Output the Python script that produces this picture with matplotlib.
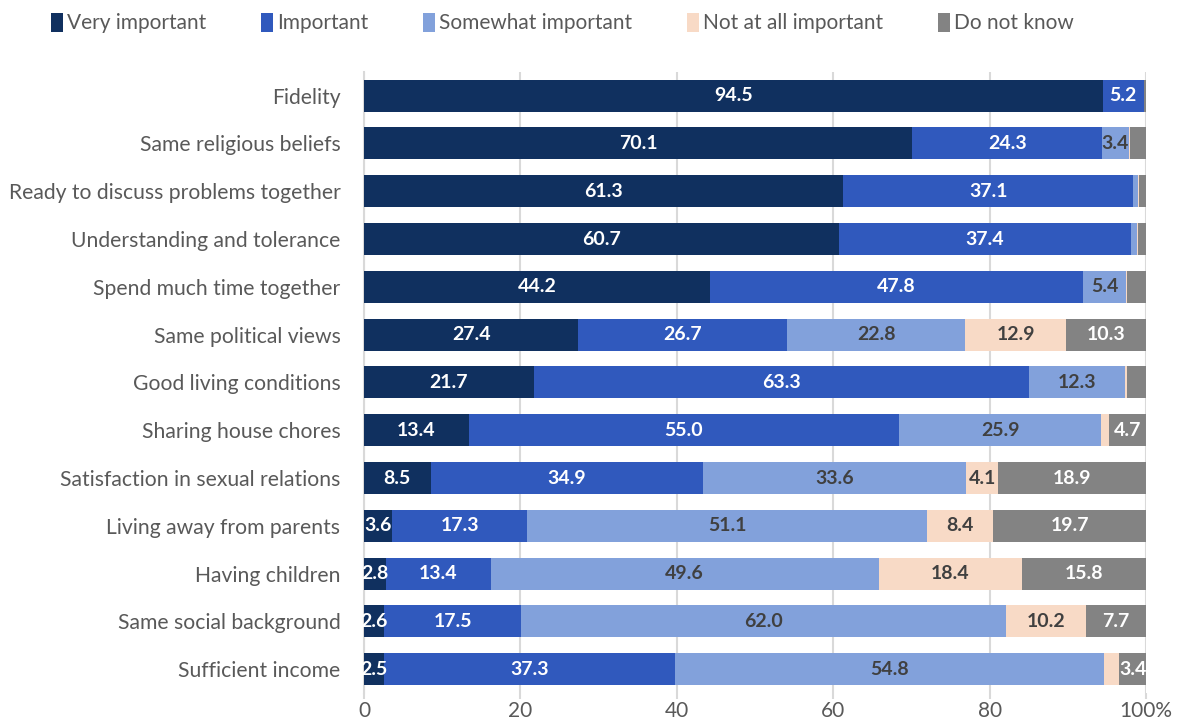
import matplotlib
matplotlib.use('Agg')
import matplotlib.pyplot as plt
from matplotlib.patches import Patch
import numpy as np

plt.rcParams['font.family'] = ['Lato', 'DejaVu Sans']

categories = ['Fidelity', 'Same religious beliefs', 'Ready to discuss problems together',
              'Understanding and tolerance', 'Spend much time together', 'Same political views',
              'Good living conditions', 'Sharing house chores', 'Satisfaction in sexual relations',
              'Living away from parents', 'Having children', 'Same social background',
              'Sufficient income']
series = ['Very important', 'Important', 'Somewhat important', 'Not at all important', 'Do not know']

very_important = [94.5, 70.1, 61.3, 60.7, 44.2, 27.4, 21.7, 13.4, 8.5, 3.6, 2.8, 2.6, 2.5]
important      = [5.2, 24.3, 37.1, 37.4, 47.8, 26.7, 63.3, 55.0, 34.9, 17.3, 13.4, 17.5, 37.3]
somewhat       = [0.1, 3.4, 0.6, 0.8, 5.4, 22.8, 12.3, 25.9, 33.6, 51.1, 49.6, 62.0, 54.8]
not_at_all     = [0.0, 0.1, 0.1, 0.1, 0.2, 12.9, 0.3, 1.0, 4.1, 8.4, 18.4, 10.2, 2.0]
do_not_know    = [0.2, 2.1, 0.9, 1.0, 2.4, 10.3, 2.4, 4.7, 18.9, 19.7, 15.8, 7.7, 3.4]

colors = ['#10305f', '#3059bd', '#82a1db', '#f8dac6', '#838383']
label_colors = ['white', 'white', '#404040', '#404040', 'white']

fig = plt.figure(figsize=(11.82, 7.25), dpi=100)
ax = fig.add_axes([0.308, 0.044, 0.6615, 0.857])

data = [very_important, important, somewhat, not_at_all, do_not_know]
y = np.arange(len(categories))
left = np.zeros(len(categories))
for vals, col, lcol in zip(data, colors, label_colors):
    vals = np.array(vals)
    bars = ax.barh(y, vals, left=left, height=0.67, color=col, edgecolor='none', zorder=3)
    for b, v in zip(bars, vals):
        if v >= 2.5:
            ax.text(b.get_x() + b.get_width() / 2, b.get_y() + b.get_height() / 2,
                    f'{v:.1f}', ha='center', va='center', color=lcol,
                    fontsize=14, fontweight='bold', zorder=4)
    left += vals

ax.set_ylim(len(categories) - 0.5, -0.5)
ax.set_xlim(0, 100)
ax.set_yticks(y)
ax.set_yticklabels(categories, fontsize=15.2, color='#595959')
ax.set_xticks([0, 20, 40, 60, 80, 100])
ax.set_xticklabels(['0', '20', '40', '60', '80', '100%'], fontsize=15, color='#595959')
ax.tick_params(axis='y', length=0, pad=17)
ax.tick_params(axis='x', length=4, color='#d9d9d9', width=1.5, pad=2)
ax.grid(axis='x', color='#d9d9d9', linewidth=1.5, zorder=0)
for s in ['top', 'right', 'bottom']:
    ax.spines[s].set_visible(False)
ax.spines['left'].set_color('#d9d9d9')
ax.spines['left'].set_linewidth(1.5)

handles = [Patch(facecolor=c, edgecolor='none') for c in colors]
leg = fig.legend(handles, series, loc='upper left', bbox_to_anchor=(0.027, 1.008), ncol=5,
                 frameon=False, fontsize=15, handlelength=0.6, handleheight=1.0,
                 handletextpad=0.2, columnspacing=2.6, labelcolor='#595959')

fig.savefig('out.png', dpi=100)
